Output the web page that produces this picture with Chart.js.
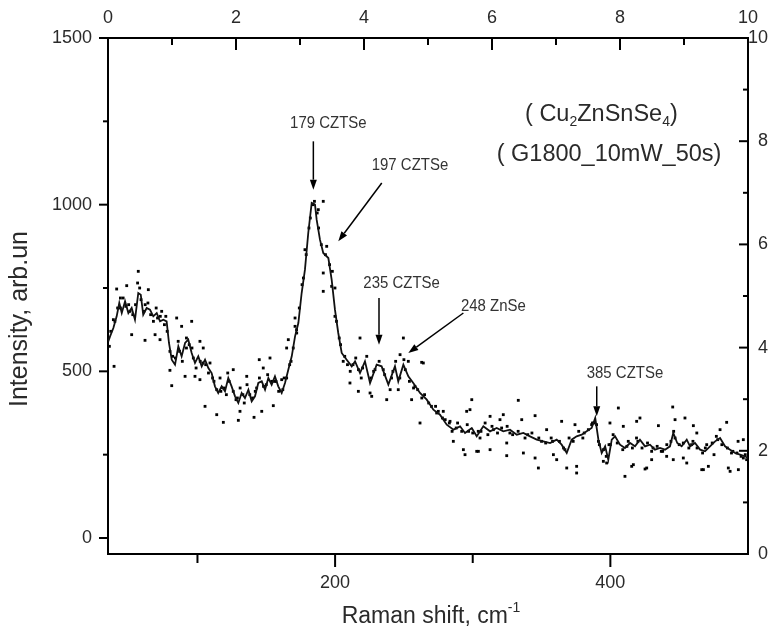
<!DOCTYPE html>
<html>
<head>
<meta charset="utf-8">
<script src="https://cdn.jsdelivr.net/npm/chart.js@4/dist/chart.umd.min.js"></script>
<style>
  html, body { margin: 0; padding: 0; background: #fff; }
</style>
</head>
<body>
<canvas id="graficoRaman" width="781" height="635"></canvas>
<script>
// Curva suavizada (Raman shift, cm-1 / intensidad)
const desplazamiento = [35.2, 36.5, 38.9, 41.3, 43.2, 45, 47.4, 49.8, 52.2, 54.6, 57, 58.8, 60.6, 63.1, 65.5, 67.9, 70.4, 72.8, 75.2, 77.6,
  79.3, 81.3, 83.7, 86.1, 88.5, 91, 93.3, 95.8, 98.2, 100.6, 103.1, 105.5, 107.9, 110.3, 112.7, 115.1, 117.6, 120, 122.4, 124.8,
  127.3, 129.7, 132.1, 134.5, 137, 139.4, 141.8, 144.2, 146.7, 149.1, 151.5, 153.9, 156.3, 158.7, 161.2, 163.6, 166, 168.5, 170.9, 173.3,
  175.7, 178.1, 180.5, 183, 185.4, 186.6, 189, 191.4, 195.1, 197.5, 199.9, 202.3, 204.8, 208.4, 212.1, 214.5, 218.1, 221.7, 225.4, 230.2,
  233.8, 238.7, 243.5, 245.9, 249.6, 253.2, 256.8, 261.7, 266.6, 271.4, 276.2, 281.1, 286, 290.8, 294.4, 299.3, 302.9, 307.7, 312.6, 317.4,
  322.2, 327.1, 332, 336.8, 341.6, 346.5, 351.3, 356.2, 361, 364.6, 368.3, 371.9, 375.5, 379.2, 382.8, 386.4, 389, 391.3, 393.7, 396.2,
  398.5, 401, 403.4, 407, 410.6, 414.3, 417.9, 421.5, 425.2, 428.8, 432.4, 436.1, 439.7, 443.3, 445.7, 448.6, 451.8, 455.5, 457.9, 461.5,
  465.2, 468.8, 472.4, 476.1, 479.7, 483.3, 487, 490.6, 494.2, 497.8, 500];
const intensidad = [590, 605, 630, 665, 705, 675, 710, 675, 690, 655, 735, 730, 670, 690, 685, 665, 675, 650, 655, 650,
  585, 535, 520, 575, 545, 585, 595, 555, 525, 545, 515, 535, 510, 495, 455, 435, 455, 440, 480, 455,
  425, 405, 435, 420, 445, 410, 425, 465, 470, 445, 480, 460, 485, 455, 435, 465, 505, 545, 605, 645,
  735, 805, 915, 1005, 1000, 955, 895, 855, 840, 775, 685, 615, 555, 535, 515, 530, 495, 530, 465, 520,
  515, 460, 515, 470, 520, 485, 465, 435, 415, 385, 370, 340, 325, 335, 315, 330, 305, 335, 320, 330,
  320, 325, 310, 315, 305, 295, 290, 285, 295, 280, 255, 295, 305, 310, 320, 330, 360, 295, 255, 275,
  235, 295, 305, 280, 270, 285, 275, 295, 275, 280, 265, 270, 265, 275, 315, 285, 275, 295, 275, 285,
  265, 260, 275, 290, 300, 275, 265, 255, 250, 245, 240];

// Puntos medidos (datos crudos)
const puntosX = [57, 56.5, 48.6, 41.3, 64.3, 52.2, 61.9, 38.9, 39.4, 74, 84.9, 95.8, 88.5, 72.8, 69.2, 80, 81.3, 91, 101.8, 104.2,
  98.2, 101.8, 105.5, 114, 118.8, 129.7, 141.1, 130.9, 146.7, 155.1, 147.8, 144.9, 152.7, 126, 116.4, 109.1, 135.8, 164.8, 170.9, 166,
  191.4, 187.8, 178.1, 193.9, 191.4, 191.4, 197.5, 199.9, 199.9, 170.9, 172.1, 169.6, 161.2, 218.1, 249.6, 247.2, 253.2, 264.1, 216.9, 225.4,
  226.6, 237.5, 245.9, 255.6, 210.8, 205.9, 299.3, 298, 261.7, 273.8, 164.8, 333.1, 295.6, 322.2, 335.6, 345.3, 364.6, 374.3, 293.2, 294.4,
  302.9, 312.6, 324.7, 336.8, 345.3, 347.7, 358.6, 361, 368.3, 375.5, 375.5, 353.7, 324.7, 305.3, 285.9, 283.5, 278.6, 262.9, 405.8, 445.3,
  421.5, 434.9, 454.2, 460.3, 479.7, 496.6, 410.6, 415.5, 426.4, 445.7, 467.6, 487, 397.3, 304.1, 312.6, 319.8, 386.4, 447, 419.1, 484.5,
  399.7, 409.4, 462.8, 492.8, 416.7, 425.2, 453, 455.5, 466.4, 471.2, 485.7, 493, 394.9, 430, 440.9, 496.6, 475.3, 391.3,
  44, 46, 50, 53, 59, 62, 66, 71, 76, 82, 87, 92, 97, 104, 111, 119, 123, 128, 133, 138,
  143, 150, 157, 162, 168, 176, 181, 184, 188, 196, 203, 207, 213, 220, 228, 235, 241, 251, 258, 268,
  275, 280, 288, 297, 306, 315, 327, 340, 350, 358, 366, 381, 388, 400, 412, 420, 431, 438, 447, 459,
  469, 478, 489, 498,
  36, 37, 40, 42, 44, 48, 51, 55, 58, 61, 64, 68, 70, 73, 77, 78,
  80, 84, 86, 89, 92, 94, 96, 99, 102, 106, 108, 112, 114, 117, 121, 122, 126, 129, 131, 134,
  136, 140, 142, 145, 148, 151, 154, 156, 159, 163, 167,
  172, 174, 177, 179, 182, 185, 187, 190, 193, 198, 201, 204,
  209, 211, 215, 217, 219, 223, 226, 229, 232, 236, 240, 242, 244, 247, 250, 254, 257, 260, 263, 265,
  270, 273, 278, 283, 285,
  289, 292, 296, 300, 304, 309, 311, 314, 318, 321, 325, 329, 333, 338, 343, 348, 353, 357, 363, 367,
  370, 373, 377, 380, 384, 387, 390, 392, 395, 397, 399, 402, 405, 409, 413, 416, 419, 423, 427, 430,
  434, 437, 441, 444, 446, 450, 453, 457, 460, 463, 467, 470, 474, 477, 481, 485, 488, 492, 495, 499];
const puntosY = [800, 765, 757, 747, 745, 610, 593, 655, 515, 680, 660, 650, 635, 595, 610, 503, 457, 485, 590, 570,
  485, 475, 395, 370, 347, 353, 362, 380, 380, 397, 510, 535, 540, 505, 480, 525, 485, 570, 660, 595,
  1010, 985, 865, 875, 795, 740, 755, 750, 665, 635, 615, 570, 475, 600, 600, 550, 530, 525, 440, 435,
  425, 415, 445, 415, 465, 530, 415, 385, 345, 375, 480, 413, 380, 370, 355, 367, 350, 340, 265, 250,
  260, 265, 247, 255, 240, 210, 250, 235, 210, 215, 195, 325, 285, 300, 290, 350, 380, 527, 390, 393,
  360, 337, 360, 337, 325, 295, 185, 215, 210, 235, 205, 200, 225, 260, 365, 355, 340, 355, 350, 347,
  345, 335, 315, 290, 220, 207, 240, 225, 205, 215, 210, 205, 230, 235, 245, 240, 250, 290,
  690, 720, 700, 670, 715, 700, 670, 660, 640, 545, 560, 570, 540, 525, 480, 450, 470, 415, 430, 430,
  450, 460, 470, 445, 530, 760, 930, 1000, 930, 820, 600, 545, 520, 510, 500, 505, 480, 505, 455, 405,
  380, 355, 330, 320, 320, 325, 315, 310, 290, 290, 270, 315, 345, 280, 275, 290, 270, 260, 300, 280,
  270, 295, 260, 250,
  575, 620, 650, 690, 720, 695, 680, 700, 750, 680, 705, 650, 690, 665, 665, 620,
  560, 540, 590, 530, 600, 580, 570, 510, 530, 520, 495, 470, 445, 440, 430, 495, 440, 420, 450, 405,
  460, 420, 440, 480, 455, 490, 470, 470, 440, 480, 520,
  625, 690, 780, 850, 960, 1010, 975, 880, 850, 800, 650, 580,
  520, 500, 540, 505, 480, 545, 480, 505, 530, 490, 445, 500, 530, 480, 535, 470, 450, 445, 420, 430,
  395, 395, 360, 345, 320,
  345, 320, 340, 315, 320, 345, 310, 335, 315, 330, 335, 310, 320, 300, 315, 300, 285, 300, 290, 265,
  300, 290, 320, 300, 325, 345, 340, 280, 265, 245, 280, 310, 285, 265, 290, 270, 300, 270, 285, 260,
  275, 260, 280, 290, 320, 280, 285, 270, 290, 270, 255, 280, 285, 305, 280, 270, 255, 255, 245, 235];

// Marcas de los ejes
const ticksAbajo = [200, 400];
const ticksAbajoMenores = [100, 300];
const ticksArriba = [0, 2, 4, 6, 8, 10];
const ticksArribaMenores = [1, 3, 5, 7, 9];
const ticksIzquierda = [0, 500, 1000, 1500];
const ticksIzquierdaMenores = [250, 750, 1250];
const ticksDerecha = [0, 2, 4, 6, 8, 10];
const ticksDerechaMenores = [1, 3, 5, 7, 9];

// Picos señalados con flecha
const picos = ['179 CZTSe', '197 CZTSe', '235 CZTSe', '248 ZnSe', '385 CZTSe'];
const anotaciones = [
  { tx: 195.1, ty: 1245, desde: [184.2, 1190], hasta: [184.2, 1045] },
  { tx: 254.4, ty: 1117, desde: [233.9, 1065], hasta: [202.3, 890] },
  { tx: 248.3, ty: 765, desde: [231.9, 720], hasta: [231.9, 580] },
  { tx: 315, ty: 695, desde: [293.2, 675], hasta: [253.2, 555] },
  { tx: 410.6, ty: 495, desde: [390.1, 455], hasta: [390.1, 365] },
];

const fuenteTicks = { family: "'Liberation Sans', Arial, sans-serif", size: 18 };
const colorTexto = '#2a2a2a';

function dibujarRico(ctx, partes, x, y, tam) {
  // partes: [texto, 'sub'|'sup'|undefined]
  let ancho = 0;
  partes.forEach(([t, tipo]) => {
    ctx.font = (tipo ? Math.round(tam * 0.6) : tam) + "px 'Liberation Sans', Arial, sans-serif";
    ancho += ctx.measureText(t).width;
  });
  let cx = x;
  partes.forEach(([t, tipo]) => {
    ctx.font = (tipo ? Math.round(tam * 0.6) : tam) + "px 'Liberation Sans', Arial, sans-serif";
    let dy = 0;
    if (tipo === 'sub') dy = tam * 0.3;
    if (tipo === 'sup') dy = -tam * 0.4;
    ctx.fillText(t, cx, y + dy);
    cx += ctx.measureText(t).width;
  });
  return ancho;
}

const decoraciones = {
  id: 'decoraciones',
  afterDraw(chart) {
    const ctx = chart.ctx;
    const { x, x2, y, y2 } = chart.scales;
    const area = chart.chartArea;
    ctx.save();
    ctx.strokeStyle = '#000';
    ctx.fillStyle = '#000';
    ctx.lineWidth = 2;
    const marca = (a, b, c, d) => { ctx.beginPath(); ctx.moveTo(a, b); ctx.lineTo(c, d); ctx.stroke(); };

    ticksAbajo.forEach(v => { const p = x.getPixelForValue(v); marca(p, area.bottom, p, area.bottom + 13); });
    ticksAbajoMenores.forEach(v => { const p = x.getPixelForValue(v); marca(p, area.bottom, p, area.bottom + 9); });
    ticksArriba.forEach(v => { const p = x2.getPixelForValue(v); marca(p, area.top, p, area.top + 12); });
    ticksArribaMenores.forEach(v => { const p = x2.getPixelForValue(v); marca(p, area.top, p, area.top + 7); });
    ticksIzquierda.forEach(v => { const p = y.getPixelForValue(v); marca(area.left - 9, p, area.left, p); });
    ticksIzquierdaMenores.forEach(v => { const p = y.getPixelForValue(v); marca(area.left - 5, p, area.left, p); });
    ticksDerecha.forEach(v => { const p = y2.getPixelForValue(v); marca(area.right - 9, p, area.right, p); });
    ticksDerechaMenores.forEach(v => { const p = y2.getPixelForValue(v); marca(area.right - 5, p, area.right, p); });

    // flechas
    ctx.lineWidth = 1.5;
    function flecha(x0, y0, x1, y1) {
      const ang = Math.atan2(y1 - y0, x1 - x0);
      const largo = 10, ancho = 3.5;
      const bx = x1 - largo * Math.cos(ang), by = y1 - largo * Math.sin(ang);
      marca(x0, y0, bx, by);
      ctx.beginPath();
      ctx.moveTo(x1, y1);
      ctx.lineTo(bx + ancho * Math.sin(ang), by - ancho * Math.cos(ang));
      ctx.lineTo(bx - ancho * Math.sin(ang), by + ancho * Math.cos(ang));
      ctx.closePath();
      ctx.fill();
    }
    ctx.textAlign = 'center';
    ctx.textBaseline = 'middle';
    anotaciones.forEach((a, i) => {
      flecha(x.getPixelForValue(a.desde[0]), y.getPixelForValue(a.desde[1]),
             x.getPixelForValue(a.hasta[0]), y.getPixelForValue(a.hasta[1]));
      // texto algo condensado, como en la figura original
      ctx.save();
      ctx.translate(x.getPixelForValue(a.tx), y.getPixelForValue(a.ty));
      ctx.scale(0.88, 1);
      ctx.fillStyle = '#333';
      ctx.font = "17px 'Liberation Sans', sans-serif";
      ctx.fillText(picos[i], 0, 0);
      ctx.restore();
    });

    // muestra
    ctx.fillStyle = colorTexto;
    ctx.textAlign = 'left';
    dibujarRico(ctx, [['( Cu'], ['2', 'sub'], ['ZnSnSe'], ['4', 'sub'], [')']], x.getPixelForValue(338), y.getPixelForValue(1270), 23.5);
    dibujarRico(ctx, [['( G1800_10mW_50s)']], x.getPixelForValue(317.4), y.getPixelForValue(1150), 23.5);

    // títulos de los ejes
    ctx.font = "23px 'Liberation Sans', Arial, sans-serif";
    const w = ctx.measureText('Raman shift, cm').width;
    ctx.font = "14px 'Liberation Sans', Arial, sans-serif";
    const w2 = ctx.measureText('-1').width;
    dibujarRico(ctx, [['Raman shift, cm'], ['-1', 'sup']], (area.left + area.right) / 2 + 3 - (w + w2) / 2, 617, 23);

    ctx.translate(20, 319);
    ctx.rotate(-Math.PI / 2);
    ctx.textAlign = 'center';
    ctx.font = "25px 'Liberation Sans', Arial, sans-serif";
    ctx.fillText('Intensity, arb.un', 0, 0);
    ctx.restore();
  }
};

const ejeFijo = (lista) => (scale) => { scale.ticks = lista.map(v => ({ value: v })); };
const borde = { display: true, color: '#000', width: 2 };

new Chart(document.getElementById('graficoRaman'), {
  type: 'line',
  data: {
    datasets: [
      {
        label: 'suavizado',
        data: desplazamiento.map((v, i) => ({ x: v, y: intensidad[i] })),
        borderColor: '#111',
        borderWidth: 1.8,
        pointRadius: 0,
        tension: 0,
        xAxisID: 'x',
        yAxisID: 'y',
      },
      {
        type: 'scatter',
        label: 'medido',
        data: puntosX.map((v, i) => ({ x: v, y: puntosY[i] })),
        pointStyle: 'rect',
        pointRadius: 2,
        backgroundColor: '#000',
        borderWidth: 0,
        xAxisID: 'x',
        yAxisID: 'y',
      },
    ],
  },
  options: {
    responsive: false,
    animation: false,
    layout: { padding: { left: 0, right: 13, top: 0, bottom: 0 } },
    plugins: { legend: { display: false }, tooltip: { enabled: false } },
    scales: {
      x: {
        type: 'linear', position: 'bottom', min: 35, max: 500,
        afterBuildTicks: ejeFijo(ticksAbajo),
        afterFit: (s) => { s.height = 81; },
        grid: { display: false, drawTicks: false },
        border: borde,
        ticks: { padding: 18, font: fuenteTicks, color: colorTexto, maxRotation: 0, callback: (v) => String(v) },
      },
      x2: {
        type: 'linear', position: 'top', min: 0, max: 10,
        afterBuildTicks: ejeFijo(ticksArriba),
        afterFit: (s) => { s.height = 38; },
        grid: { display: false, drawTicks: false },
        border: borde,
        ticks: { padding: 9, font: fuenteTicks, color: colorTexto, maxRotation: 0, callback: (v) => String(v) },
      },
      y: {
        type: 'linear', position: 'left', min: -48, max: 1500,
        afterBuildTicks: ejeFijo(ticksIzquierda),
        afterFit: (s) => { s.width = 108; },
        grid: { display: false, drawTicks: false },
        border: borde,
        ticks: { padding: 16, font: fuenteTicks, color: colorTexto, callback: (v) => String(v) },
      },
      y2: {
        type: 'linear', position: 'right', min: 0, max: 10,
        afterBuildTicks: ejeFijo(ticksDerecha),
        afterFit: (s) => { s.width = 20; },
        grid: { display: false, drawTicks: false },
        border: borde,
        ticks: { padding: 3, crossAlign: 'far', font: fuenteTicks, color: colorTexto, callback: (v) => String(v) },
      },
    },
  },
  plugins: [decoraciones],
});
</script>
</body>
</html>
